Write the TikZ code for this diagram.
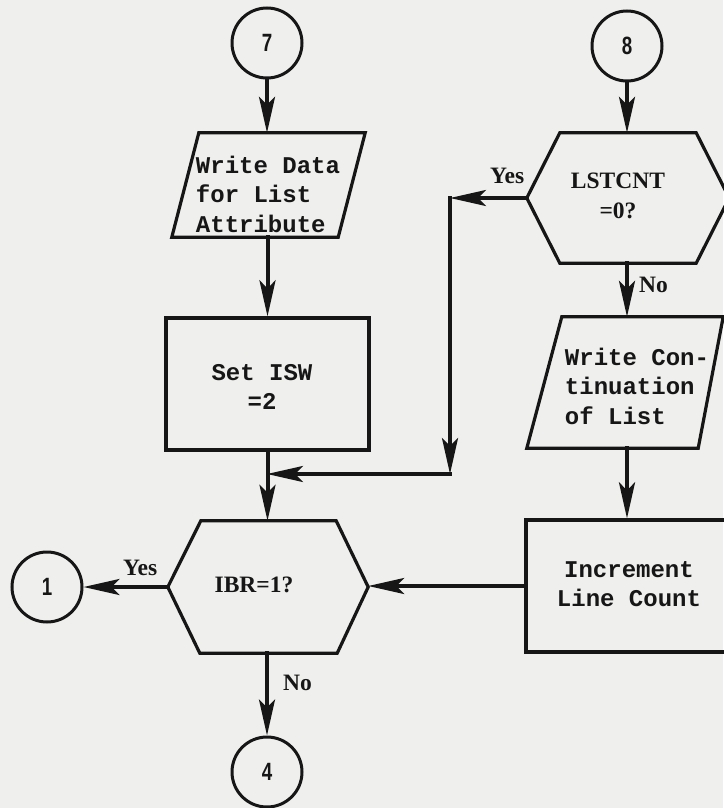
\documentclass[tikz,border=0pt]{standalone}
\usepackage{fontspec}
\usetikzlibrary{arrows.meta}
\newfontfamily\twfam{Liberation Mono}
\newfontfamily\lbfam{Liberation Serif}
\newfontfamily\nmfam{Liberation Sans}
\newcommand\twfont{\twfam\bfseries\fontsize{24}{29.5}\selectfont}
\newcommand\lbfont{\lbfam\bfseries\fontsize{23.5}{30}\selectfont}
\newcommand\nmfont{\nmfam\bfseries\fontsize{25}{30}\selectfont}
\definecolor{paper}{RGB}{239,239,237}
\definecolor{ink}{RGB}{22,22,22}
\tikzset{
  conn/.style={draw=ink, line width=4pt, line cap=rect},
  arr/.style={conn, -{Stealth[length=36pt,width=16pt,inset=8pt]}},
  shp/.style={draw=ink, line width=3.2pt, line join=miter},
  circ/.style={circle, draw=ink, line width=3pt, minimum size=70pt, inner sep=0pt, font=\nmfont, text=ink},
  frame/.style={rectangle, draw=none, inner sep=0pt},
  boxed/.style={rectangle, draw=ink, line width=3.2pt, inner sep=0pt},
  tw/.style={font=\twfont, inner sep=0pt, text=ink},
  lab/.style={font=\lbfont, inner sep=0pt, text=ink},
}
\begin{document}
\begin{tikzpicture}[x=1pt,y=-1pt]
\fill[paper] (0,0) rectangle (723,808);
\useasboundingbox (0,0) rectangle (723,808);

% left column
\node[circ] (c7) at (267,43) {\scalebox{0.75}[1]{7}};
\node[frame, minimum width=193pt, minimum height=104pt] (p1) at (268.5,185) {};
\draw[shp] ([xshift=27pt]p1.north west) -- (p1.north east) -- ([xshift=-27pt]p1.south east) -- (p1.south west) -- cycle;
\node[tw, align=left] (p1t) at (268,194) {Write Data\\for List\\Attribute};

\node[boxed, minimum width=203pt, minimum height=132pt] (r1) at (267.5,384) {};
\node[tw, align=center] (r1t) at (262,387) {Set ISW\\=2};

\node[frame, minimum width=200pt, minimum height=132pt] (h1) at (268,587) {};
\draw[shp] ([xshift=33pt]h1.north west) -- ([xshift=-32pt]h1.north east) -- (h1.east) -- ([xshift=-31pt]h1.south east) -- ([xshift=32pt]h1.south west) -- (h1.west) -- cycle;
\node[lab] (h1t) at (254,585) {IBR=1?};

\node[circ] (c1) at (47,587) {\scalebox{0.75}[1]{1}};
\node[circ] (c4) at (267,772) {\scalebox{0.75}[1]{4}};

% right column
\node[circ] (c8) at (627,46) {\scalebox{0.75}[1]{8}};
\node[frame, minimum width=202pt, minimum height=130pt] (h2) at (628,198) {};
\draw[shp] ([xshift=33pt]h2.north west) -- ([xshift=-33pt]h2.north east) -- (h2.east) -- ([xshift=-33pt]h2.south east) -- ([xshift=33pt]h2.south west) -- (h2.west) -- cycle;
\node[lab, align=center] (h2t) at (618,196) {LSTCNT\\=0?};

\node[frame, minimum width=196pt, minimum height=131pt] (p2) at (625,382.5) {};
\draw[shp] ([xshift=35pt]p2.north west) -- (p2.north east) -- ([xshift=-25pt]p2.south east) -- (p2.south west) -- cycle;
\node[tw, align=left] (p2t) at (637,386) {Write Con-\\tinuation\\of List};

\node[boxed, minimum width=202pt, minimum height=132pt] (r2) at (627,586) {};
\node[tw, align=center] (r2t) at (629,584) {Increment\\Line Count};

% junction and corners
\coordinate (k1) at (450,198);
\coordinate (k2) at (450,474);
\coordinate (jn) at (267,474);

% connectors
\draw[arr] (c7.south) -- (c7.south |- p1.north);
\draw[arr] (r1.north |- p1.south) -- (r1.north);
\draw[arr] (r1.south) -- (r1.south |- h1.north);
\draw[arr] (h1.west) -- (c1.east);
\draw[arr] (c4.north |- h1.south) -- (c4.north);

\draw[arr] (c8.south) -- (c8.south |- h2.north);
\draw[arr] (c8.south |- h2.south) -- (c8.south |- p2.north);
\draw[arr] (r2.north |- p2.south) -- (r2.north);
\draw[arr] (r2.west) -- (r2.west -| h1.east);

\draw[arr] (h2.west) -- (k1);
\draw[arr] (k1) -- (k2);
\draw[arr] (k2) -- (jn);

% labels
\node[lab, anchor=base west] (y1) at (490,183) {Yes};
\node[lab, anchor=base west] (n1) at (639,292) {No};
\node[lab, anchor=base west] (y2) at (123,575) {Yes};
\node[lab, anchor=base west] (n2) at (283,690) {No};
\end{tikzpicture}
\end{document}
